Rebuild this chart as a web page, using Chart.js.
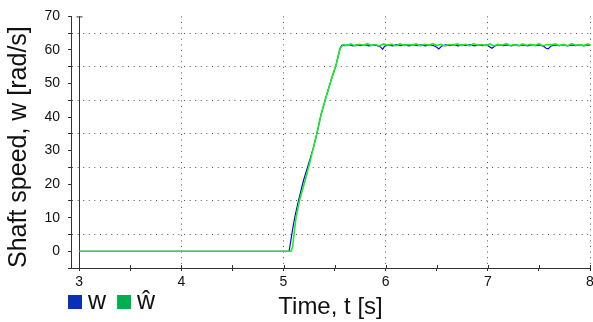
<!DOCTYPE html>
<html>
<head>
<meta charset="utf-8">
<script src="https://cdn.jsdelivr.net/npm/chart.js@4/dist/chart.umd.min.js"></script>
<style>
  html, body { margin: 0; padding: 0; background: #fff; overflow: hidden; }
  #wrap { position: relative; width: 600px; height: 322px; }
</style>
</head>
<body>
<div id="wrap"><canvas id="speedChart"></canvas></div>
<script>
// Measured shaft speed w (rad/s) against time (s)
const timeW = [
  3.00, 5.055, 5.087, 5.110, 5.146, 5.195, 5.244, 5.293, 5.332, 5.368, 5.414, 5.463, 5.515, 5.554, 5.572,
  5.60, 5.64, 5.68, 5.72, 5.76, 5.80, 5.84, 5.88, 5.92, 5.95, 5.97, 5.99,
  6.03, 6.07, 6.11, 6.15, 6.19, 6.23, 6.27, 6.31, 6.35, 6.39, 6.43, 6.47, 6.50, 6.52, 6.55,
  6.59, 6.63, 6.67, 6.71, 6.75, 6.79, 6.83, 6.87, 6.91, 6.95, 6.99, 7.02, 7.04, 7.07,
  7.11, 7.15, 7.19, 7.23, 7.27, 7.31, 7.35, 7.39, 7.43, 7.47, 7.51, 7.55, 7.57, 7.59, 7.62,
  7.66, 7.70, 7.74, 7.78, 7.82, 7.86, 7.90, 7.94, 7.98, 8.00
];
const speedW = [
  0, 0, 6.1, 10.1, 15.0, 21.0, 25.9, 30.9, 35.8, 40.8, 45.7, 50.7, 55.6, 60.5, 61.4,
  61.3, 61.6, 61.2, 61.5, 61.3, 61.6, 61.2, 61.5, 61.3, 60.9, 60.2, 61.1,
  61.5, 61.2, 61.6, 61.3, 61.5, 61.2, 61.6, 61.3, 61.5, 61.2, 61.6, 61.3, 60.8, 60.3, 61.2,
  61.5, 61.3, 61.6, 61.2, 61.5, 61.3, 61.6, 61.2, 61.5, 61.3, 61.5, 60.9, 60.5, 61.2,
  61.6, 61.3, 61.5, 61.2, 61.6, 61.3, 61.5, 61.2, 61.6, 61.3, 61.5, 61.0, 60.5, 60.3, 61.2,
  61.5, 61.3, 61.6, 61.2, 61.5, 61.3, 61.6, 61.2, 61.5, 61.4
];

// Estimated shaft speed ŵ (rad/s) against time (s)
const timeWhat = [
  3.00, 5.075, 5.090, 5.107, 5.123, 5.156, 5.211, 5.253, 5.293, 5.332, 5.368, 5.414, 5.463, 5.515, 5.554, 5.586,
  5.62, 5.66, 5.70, 5.74, 5.78, 5.82, 5.86, 5.90, 5.94, 5.98,
  6.02, 6.06, 6.10, 6.14, 6.18, 6.22, 6.26, 6.30, 6.34, 6.38,
  6.42, 6.46, 6.50, 6.54, 6.58, 6.62, 6.66, 6.70, 6.74, 6.78,
  6.82, 6.86, 6.90, 6.94, 6.98, 7.02, 7.06, 7.10, 7.14, 7.18,
  7.22, 7.26, 7.30, 7.34, 7.38, 7.42, 7.46, 7.50, 7.54, 7.58,
  7.62, 7.66, 7.70, 7.74, 7.78, 7.82, 7.86, 7.90, 7.94, 7.98, 8.00
];
const speedWhat = [
  0, 0, 1.5, 6.1, 10.1, 15.0, 21.0, 25.9, 30.9, 35.8, 40.8, 45.7, 50.7, 55.6, 60.5, 61.6,
  61.3, 61.8, 61.2, 61.7, 61.4, 61.9, 61.3, 61.6, 61.2, 61.8,
  61.4, 61.7, 61.2, 61.9, 61.3, 61.6, 61.5, 61.8, 61.2, 61.7,
  61.4, 61.9, 61.3, 61.7, 61.2, 61.6, 61.4, 61.8, 61.3, 61.7,
  61.2, 61.9, 61.4, 61.6, 61.3, 61.8, 61.2, 61.7, 61.4, 61.9,
  61.3, 61.6, 61.2, 61.8, 61.4, 61.7, 61.3, 61.9, 61.2, 61.6,
  61.5, 61.8, 61.3, 61.7, 61.2, 61.9, 61.4, 61.6, 61.3, 61.8, 61.5
];

// Axis ticks
const xTickValues = [3, 3.5, 4, 4.5, 5, 5.5, 6, 6.5, 7, 7.5, 8];
const yTickValues = [-5, 0, 5, 10, 15, 20, 25, 30, 35, 40, 45, 50, 55, 60, 65, 70];
const seriesLabels = ['w', 'ŵ'];

const FONT = '"Liberation Sans", Arial, sans-serif';
const AXIS = '#333333';
const DOTS = '#555555';
Chart.defaults.font.family = FONT;

const toPoints = (xs, ys) => xs.map((x, i) => ({ x: x, y: ys[i] }));

// Solid line at t = 3 with a small cap, and tick marks that cross the time axis
const axisMarks = {
  id: 'axisMarks',
  afterDraw(chart) {
    const { ctx, chartArea } = chart;
    const xs = chart.scales.x;
    ctx.save();
    ctx.strokeStyle = AXIS;
    ctx.lineWidth = 1;
    const x3 = Math.round(xs.getPixelForValue(xTickValues[0])) + 0.5;
    ctx.beginPath();
    ctx.moveTo(x3 - 3, chartArea.top + 0.5);
    ctx.lineTo(x3 + 3, chartArea.top + 0.5);
    ctx.stroke();
    xs.ticks.forEach(t => {
      const px = Math.round(xs.getPixelForValue(t.value)) + 0.5;
      ctx.beginPath();
      ctx.moveTo(px, chartArea.bottom - 3);
      ctx.lineTo(px, chartArea.bottom);
      ctx.stroke();
    });
    ctx.restore();
  }
};

// Legend swatches under the plot
const swatchLegend = {
  id: 'swatchLegend',
  afterDraw(chart) {
    const ctx = chart.ctx;
    const size = 14, top = 295;
    let x = 68;
    ctx.save();
    ctx.font = '25px ' + FONT;
    ctx.textBaseline = 'alphabetic';
    chart.data.datasets.forEach(ds => {
      ctx.fillStyle = ds.backgroundColor;
      ctx.fillRect(x, top, size, size);
      x += size + 6;
      ctx.fillStyle = '#111111';
      ctx.fillText(ds.label, x, top + size);
      x += ctx.measureText(ds.label).width + 11;
    });
    ctx.restore();
  }
};

new Chart(document.getElementById('speedChart'), {
  type: 'line',
  data: {
    datasets: [
      {
        label: seriesLabels[0],
        data: toPoints(timeW, speedW),
        borderColor: '#0000ff',
        backgroundColor: '#0a30b8',
        borderWidth: 1.2,
        pointRadius: 0,
        tension: 0,
        order: 1
      },
      {
        label: seriesLabels[1],
        data: toPoints(timeWhat, speedWhat),
        borderColor: '#1cf01c',
        backgroundColor: '#00b050',
        borderWidth: 1.6,
        pointRadius: 0,
        tension: 0,
        order: 0
      }
    ]
  },
  options: {
    responsive: true,
    maintainAspectRatio: false,
    animation: false,
    layout: { padding: { top: 15, right: 10, bottom: 0, left: 0 } },
    plugins: {
      legend: { display: false },
      tooltip: { enabled: false }
    },
    scales: {
      x: {
        type: 'linear',
        min: 2.92,
        max: 8,
        afterBuildTicks: s => { s.ticks = xTickValues.map(v => ({ value: v })); },
        afterFit: s => { s.height = 54; },
        ticks: {
          autoSkip: false,
          maxRotation: 0,
          padding: 3,
          color: '#111111',
          font: { size: 14 },
          callback: v => Number.isInteger(v) ? String(v) : ''
        },
        grid: {
          color: c => {
            const v = c.tick ? c.tick.value : null;
            if (v === xTickValues[0]) return AXIS;
            return Number.isInteger(v) ? DOTS : 'rgba(0,0,0,0)';
          },
          lineWidth: 1,
          tickColor: AXIS,
          tickLength: 3
        },
        border: {
          display: true,
          color: AXIS,
          width: 1,
          dash: c => (c.tick && c.tick.value === xTickValues[0]) ? [] : [1, 4.6]
        },
        title: {
          display: true,
          text: 'Time, t [s]',
          color: '#111111',
          font: { size: 24 },
          padding: { top: 0, bottom: 0 }
        }
      },
      y: {
        type: 'linear',
        min: -5,
        max: 70,
        afterBuildTicks: s => { s.ticks = yTickValues.map(v => ({ value: v })); },
        afterFit: s => { s.width = 71; },
        ticks: {
          autoSkip: false,
          padding: 8,
          color: '#111111',
          font: { size: 14 },
          callback: v => (v % 10 === 0) ? String(v) : ''
        },
        grid: {
          color: c => {
            const v = c.tick ? c.tick.value : null;
            return (v !== null && v % 10 !== 0 && v > -5) ? DOTS : 'rgba(0,0,0,0)';
          },
          lineWidth: 1,
          tickColor: AXIS,
          tickLength: 3
        },
        border: { display: true, color: AXIS, width: 1, dash: [1, 4.6] },
        title: {
          display: true,
          text: 'Shaft speed, w [rad/s]',
          align: 'start',
          color: '#111111',
          font: { size: 25 },
          padding: { top: 4, bottom: 0 }
        }
      }
    }
  },
  plugins: [axisMarks, swatchLegend]
});
</script>
</body>
</html>
